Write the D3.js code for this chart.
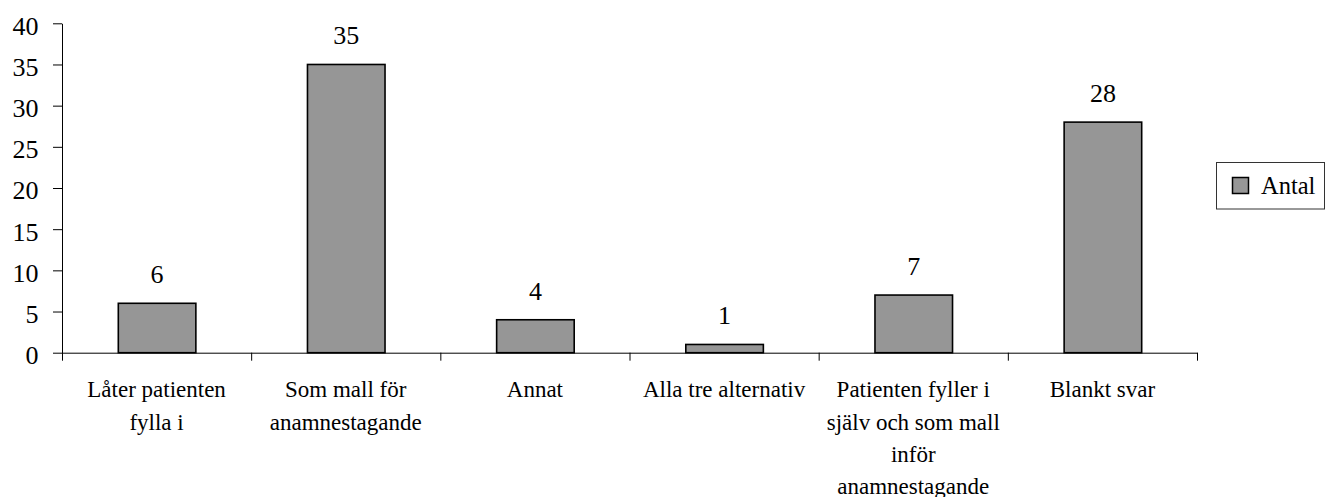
<!DOCTYPE html>
<html>
<head>
<meta charset="utf-8">
<script src="https://cdn.jsdelivr.net/npm/d3@7/dist/d3.min.js"></script>
</head>
<body style="margin:0;background:#fff">
<svg id="chart" width="1331" height="497"></svg>
<script>
const categories = [
  "Låter patienten\nfylla i",
  "Som mall för\nanamnestagande",
  "Annat",
  "Alla tre alternativ",
  "Patienten fyller i\nsjälv och som mall\ninför\nanamnestagande",
  "Blankt svar"
];
const values = [6, 35, 4, 1, 7, 28];
const yTicks = [0, 5, 10, 15, 20, 25, 30, 35, 40];
const seriesName = "Antal";

const FONT = "Liberation Serif";
const svg = d3.select("#chart");
const plotLeft = 62, plotRight = 1197, plotTop = 23.3, plotBottom = 352.7;

const x = d3.scaleBand().domain(categories).range([plotLeft, plotRight]).padding(0);
const xEdges = d3.scaleLinear().domain([0, categories.length]).range([plotLeft, plotRight]);
const y = d3.scaleLinear().domain([0, 40]).range([plotBottom, plotTop]);

const barW = x.bandwidth() * 0.41;

// bars
svg.append("g").selectAll("rect").data(values).join("rect")
  .attr("x", (d, i) => x(categories[i]) + (x.bandwidth() - barW) / 2 + 0.5)
  .attr("y", d => y(d))
  .attr("width", barW)
  .attr("height", d => y(0) - y(d))
  .attr("fill", "#969696")
  .attr("stroke", "#000")
  .attr("stroke-width", 1.6);

// y axis
const yAxis = svg.append("g")
  .attr("transform", `translate(${plotLeft},0)`)
  .call(d3.axisLeft(y).tickValues(yTicks).tickSize(9).tickPadding(14.5).tickSizeOuter(0));
yAxis.attr("font-family", null).attr("font-size", null);
yAxis.select(".domain").attr("stroke", "#000");
yAxis.selectAll(".tick line").attr("stroke", "#000");
yAxis.selectAll(".tick text")
  .style("font-family", FONT)
  .style("font-size", "26px")
  .attr("fill", "#000")
  .attr("dy", "0.42em");

// x axis (boundary ticks)
const xAxis = svg.append("g")
  .attr("transform", `translate(0,${plotBottom})`)
  .call(d3.axisBottom(xEdges).ticks(categories.length).tickSize(8).tickFormat("").tickSizeOuter(0));
xAxis.select(".domain").attr("stroke", "#000");
xAxis.selectAll(".tick line").attr("stroke", "#000");

// value labels
svg.append("g").selectAll("text").data(values).join("text")
  .attr("x", (d, i) => x(categories[i]) + x.bandwidth() / 2 + 0.5)
  .attr("y", d => y(d) - 20)
  .attr("text-anchor", "middle")
  .style("font-family", FONT)
  .style("font-size", "26px")
  .attr("fill", "#000")
  .text(d => d);

// category labels
const catG = svg.append("g");
categories.forEach(c => {
  const t = catG.append("text")
    .attr("text-anchor", "middle")
    .style("font-family", FONT)
    .style("font-size", "23px")
    .attr("fill", "#000");
  c.split("\n").forEach((line, j) => {
    t.append("tspan")
      .attr("x", x(c) + x.bandwidth() / 2)
      .attr("y", 397.3 + j * 32.2)
      .text(line);
  });
});

// legend
const lg = svg.append("g");
lg.append("rect")
  .attr("x", 1216.5).attr("y", 162.5).attr("width", 108).attr("height", 46.5)
  .attr("fill", "#fff").attr("stroke", "#333").attr("stroke-width", 1);
lg.append("rect")
  .attr("x", 1232.5).attr("y", 177.5).attr("width", 16).attr("height", 16)
  .attr("fill", "#969696").attr("stroke", "#000").attr("stroke-width", 1.5);
lg.append("text")
  .attr("x", 1261).attr("y", 194)
  .style("font-family", FONT)
  .style("font-size", "24.5px")
  .attr("fill", "#000")
  .text(seriesName);
</script>
</body>
</html>
